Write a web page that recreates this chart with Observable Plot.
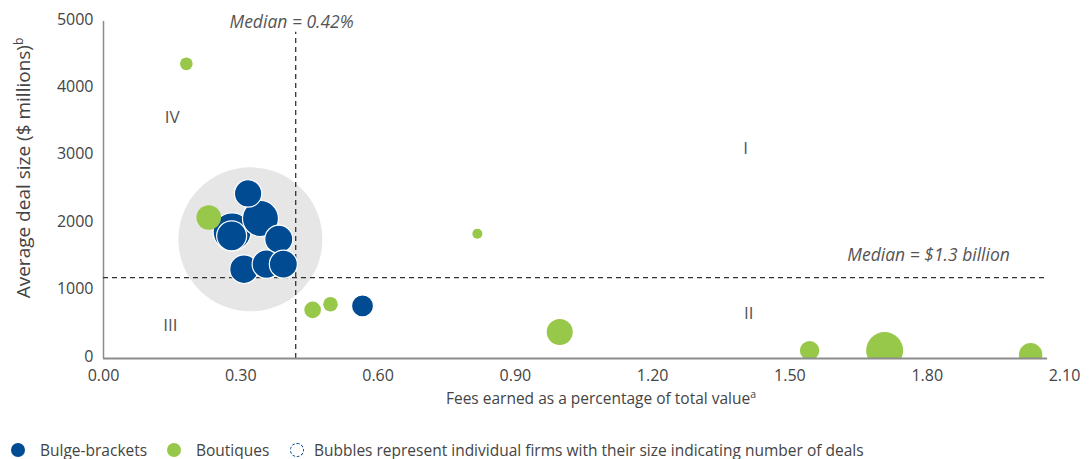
<!DOCTYPE html>
<html><head><meta charset="utf-8">
<script src="https://cdn.jsdelivr.net/npm/d3@7"></script>
<script src="https://cdn.jsdelivr.net/npm/@observablehq/plot@0.6"></script>
<style>
body{margin:0;background:#fff;font-family:"Open Sans",sans-serif;width:1092px;height:459px;overflow:hidden;position:relative;}
#legend{position:absolute;left:0;top:440px;width:1092px;height:20px;font-size:15.5px;color:#444;white-space:nowrap;}
#legend .sw{position:absolute;top:3px;width:14px;height:14px;border-radius:50%;box-sizing:border-box;}
#legend .lt{position:absolute;top:0;line-height:20px;}
</style></head><body>
<div id="chart"></div>
<div id="legend"></div>
<script>
// Bulge-bracket firms: fee %, average deal size ($m), number of deals
const bulgeFees  = [0.316, 0.281, 0.280, 0.383, 0.343, 0.307, 0.393, 0.356, 0.566];
const bulgeSizes = [2449, 1880, 1820, 1771, 2077, 1325, 1400, 1400, 780];
const bulgeDeals = [188, 361, 225, 196, 324, 204, 196, 204, 121];
// Boutique firms
const boutiqueFees  = [0.181, 0.230, 0.817, 0.457, 0.496, 0.997, 1.543, 1.707, 2.026];
const boutiqueSizes = [4372, 2092, 1850, 721, 805, 394, 116, 119, 56];
const boutiqueDeals = [40, 151, 25, 69, 53, 169, 94, 342, 137];
// Cluster highlight
const clusterFee = [0.321];
const clusterSize = [1768];
// Medians
const medianFee = 0.42;
const medianDeal = 1200;
const xAxisEnd = 2.063;
const xTicks = [0, 0.3, 0.6, 0.9, 1.2, 1.5, 1.8, 2.1];
const yTicks = [0, 1000, 2000, 3000, 4000, 5000];
// Quadrant labels
const quadNames = ["IV", "I", "III", "II"];
const quadFees  = [0.150, 1.403, 0.146, 1.410];
const quadSizes = [3569, 3112, 483, 661];
// Median annotations
const noteTexts = ["Median = 0.42%", "Median = $1.3 billion"];
const noteFees  = [0.411, 1.803];
const noteSizes = [4985, 1523];
// Legend
const legendLabels = ["Bulge-brackets", "Boutiques", "Bubbles represent individual firms with their size indicating number of deals"];

const blue = "#004b91", green = "#97c84a";
const bulge = bulgeFees.map((f, i) => ({fee: f, size: bulgeSizes[i], deals: bulgeDeals[i]}));
const boutique = boutiqueFees.map((f, i) => ({fee: f, size: boutiqueSizes[i], deals: boutiqueDeals[i]}));
const cluster = clusterFee.map((f, i) => ({fee: f, size: clusterSize[i]}));
const quads = quadNames.map((n, i) => ({name: n, fee: quadFees[i], size: quadSizes[i]}));
const notes = noteTexts.map((t, i) => ({text: t, fee: noteFees[i], size: noteSizes[i]}));

const W = 1092, H = 420;
const plot = Plot.plot({
  width: W, height: H,
  marginLeft: 103, marginRight: 28, marginTop: 21, marginBottom: 62,
  style: {fontFamily: "'Open Sans', sans-serif", background: "#fff"},
  x: {domain: [0, 2.1], axis: null},
  y: {domain: [0, 5000], axis: null},
  r: {type: "sqrt", domain: [0, 400], range: [0, 20]},
  marks: [
    Plot.dot(cluster, {x: "fee", y: "size", r: 72, fill: "#e6e6e6"}),
    Plot.ruleX([0], {y1: 0, y2: 5000, stroke: "#8c8c8c", strokeWidth: 1.5}),
    Plot.ruleX([medianFee], {y1: 0, y2: 4840, stroke: "#333", strokeWidth: 1.3, strokeDasharray: "5,4"}),
    Plot.ruleY([medianDeal], {x1: 0, x2: xAxisEnd, stroke: "#333", strokeWidth: 1.3, strokeDasharray: "5,4"}),
    Plot.dot(bulge, {x: "fee", y: "size", r: "deals", fill: blue, stroke: "#fff", strokeWidth: 1.2, clip: true}),
    Plot.dot(boutique, {x: "fee", y: "size", r: "deals", fill: green, clip: true}),
    Plot.ruleY([0], {x1: 0, x2: xAxisEnd, stroke: "#8c8c8c", strokeWidth: 2}),
    Plot.axisX(xTicks, {tickSize: 0, tickPadding: 11, tickFormat: d => d.toFixed(2), fontSize: 16, fill: "#444", label: null}),
    Plot.axisY(yTicks, {tickSize: 0, tickPadding: 10, tickFormat: d => String(d), fontSize: 16, fill: "#444", label: null, dy: -2}),
    Plot.text(quads, {x: "fee", y: "size", text: "name", fontSize: 17, fill: "#555"}),
    Plot.text(notes, {x: "fee", y: "size", text: "text", fontSize: 17.5, fill: "#555", fontStyle: "italic"})
  ]
});
document.getElementById("chart").appendChild(plot);

// Axis titles with superscripts
const svg = d3.select(plot);
const xl = svg.append("text").attr("x", 601).attr("y", 404).attr("text-anchor", "middle")
  .attr("font-size", 15.5).attr("fill", "#444");
xl.append("tspan").text("Fees earned as a percentage of total value");
xl.append("tspan").attr("font-size", 10.5).attr("dy", -6).text("a");
const yl = svg.append("text").attr("transform", "translate(30,168) rotate(-90)").attr("text-anchor", "middle")
  .attr("font-size", 19).attr("fill", "#444");
yl.append("tspan").text("Average deal size ($ millions)");
yl.append("tspan").attr("font-size", 12).attr("dy", -7).text("b");

// Legend
const legend = d3.select("#legend");
const swLeft = [11, 167, 290], txtLeft = [40, 196, 314];
const swStyle = [["background", blue], ["background", green], ["border", "1.5px dashed " + blue]];
legendLabels.forEach((t, i) => {
  legend.append("span").attr("class", "sw").style("left", swLeft[i] + "px").style(swStyle[i][0], swStyle[i][1]);
  legend.append("span").attr("class", "lt").style("left", txtLeft[i] + "px").text(t);
});
</script>
</body></html>
